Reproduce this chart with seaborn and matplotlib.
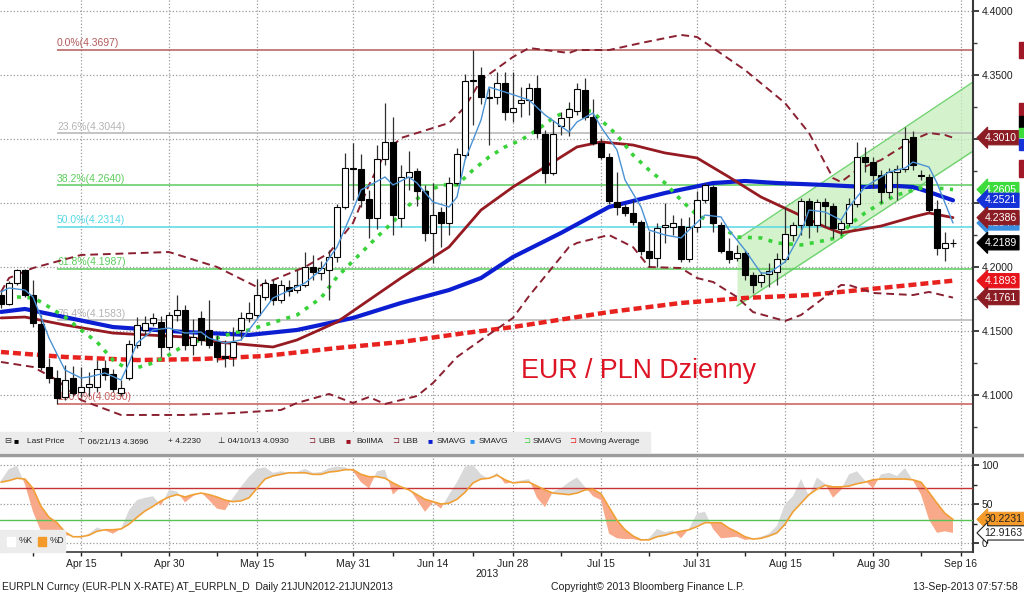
import numpy as np
import matplotlib
matplotlib.use("Agg")
import matplotlib.pyplot as plt
import matplotlib.transforms as mtransforms
from matplotlib import font_manager
from matplotlib.lines import Line2D
from matplotlib.patches import Rectangle
import seaborn as sns

# -----------------------------
# Data (trading-day index 0 = 01 Apr 2013, 119 = 13 Sep 2013)
# -----------------------------
opens = [4.1781, 4.1711, 4.1875, 4.1977, 4.1781, 4.1555, 4.1219, 4.1133, 4.0984, 4.1133,
         4.1023, 4.1063, 4.1063, 4.1211, 4.1164, 4.1016, 4.1133, 4.1391, 4.1508, 4.1563,
         4.1571, 4.1375, 4.1625, 4.1664, 4.1391, 4.1602, 4.1508, 4.1414, 4.1305, 4.1297,
         4.1508, 4.1602, 4.1625, 4.1766, 4.1867, 4.1742, 4.1844, 4.1820, 4.1859, 4.2000,
         4.1953, 4.1977, 4.2078, 4.2469, 4.2773, 4.2766, 4.2531, 4.2383, 4.2844, 4.2977,
         4.2383, 4.2703, 4.2750, 4.2594, 4.2266, 4.2430, 4.2344, 4.2656, 4.2875, 4.3453,
         4.3500, 4.3328, 4.3328, 4.3438, 4.3211, 4.3280, 4.3305, 4.3398, 4.3040, 4.2734,
         4.3102, 4.3172, 4.3219, 4.3383, 4.3172, 4.2969, 4.2859, 4.2508, 4.2469, 4.2422,
         4.2352, 4.2125, 4.2070, 4.2313, 4.2313, 4.2320, 4.2063, 4.2313, 4.2523, 4.2625,
         4.2328, 4.2125, 4.2070, 4.2109, 4.1938, 4.1883, 4.1945, 4.1961, 4.2063, 4.2250,
         4.2328, 4.2516, 4.2328, 4.2508, 4.2477, 4.2297, 4.2344, 4.2492, 4.2859, 4.2820,
         4.2719, 4.2586, 4.2742, 4.2766, 4.3016, 4.2719, 4.2703, 4.2453, 4.2148, 4.2189]
highs = [4.182, 4.189, 4.1985, 4.1985, 4.190, 4.1625, 4.129, 4.1195, 4.1234, 4.1227,
         4.122, 4.118, 4.127, 4.127, 4.120, 4.112, 4.143, 4.161, 4.162, 4.164,
         4.162, 4.165, 4.178, 4.170, 4.159, 4.166, 4.174, 4.147, 4.143, 4.153,
         4.165, 4.173, 4.191, 4.191, 4.191, 4.190, 4.190, 4.198, 4.212, 4.209,
         4.205, 4.213, 4.249, 4.289, 4.297, 4.288, 4.260, 4.295, 4.328, 4.317,
         4.280, 4.291, 4.277, 4.264, 4.266, 4.247, 4.270, 4.293, 4.351, 4.3696,
         4.356, 4.340, 4.352, 4.352, 4.352, 4.341, 4.344, 4.350, 4.307, 4.315,
         4.321, 4.329, 4.344, 4.348, 4.331, 4.301, 4.289, 4.274, 4.249, 4.252,
         4.237, 4.228, 4.234, 4.250, 4.241, 4.238, 4.239, 4.259, 4.266, 4.264,
         4.235, 4.223, 4.217, 4.213, 4.196, 4.196, 4.203, 4.211, 4.247, 4.235,
         4.254, 4.254, 4.253, 4.254, 4.250, 4.237, 4.254, 4.298, 4.294, 4.286,
         4.276, 4.277, 4.280, 4.309, 4.306, 4.276, 4.273, 4.252, 4.227, 4.222]
lows = [4.168, 4.170, 4.186, 4.1766, 4.1531, 4.1195, 4.1094, 4.0930, 4.0961, 4.0992,
        4.0984, 4.099, 4.102, 4.112, 4.102, 4.099, 4.112, 4.137, 4.147, 4.154,
        4.130, 4.135, 4.158, 4.135, 4.131, 4.139, 4.137, 4.126, 4.122, 4.123,
        4.143, 4.157, 4.160, 4.174, 4.170, 4.172, 4.177, 4.180, 4.184, 4.190,
        4.190, 4.174, 4.204, 4.245, 4.252, 4.247, 4.223, 4.230, 4.280, 4.225,
        4.231, 4.260, 4.248, 4.220, 4.203, 4.216, 4.225, 4.264, 4.284, 4.311,
        4.327, 4.295, 4.327, 4.315, 4.313, 4.317, 4.319, 4.301, 4.266, 4.272,
        4.303, 4.302, 4.319, 4.315, 4.295, 4.284, 4.249, 4.241, 4.240, 4.233,
        4.209, 4.200, 4.200, 4.219, 4.225, 4.204, 4.204, 4.227, 4.250, 4.227,
        4.211, 4.203, 4.205, 4.190, 4.180, 4.184, 4.184, 4.186, 4.204, 4.220,
        4.225, 4.223, 4.227, 4.231, 4.223, 4.225, 4.232, 4.247, 4.274, 4.262,
        4.250, 4.254, 4.252, 4.274, 4.276, 4.268, 4.243, 4.209, 4.205, 4.2155]
closes = [4.1711, 4.1875, 4.1977, 4.1781, 4.1563, 4.1219, 4.1133, 4.0977, 4.1117, 4.1016,
          4.1063, 4.1086, 4.1203, 4.1156, 4.1047, 4.1055, 4.1400, 4.1547, 4.1563, 4.1602,
          4.1375, 4.1625, 4.1664, 4.1391, 4.1453, 4.1430, 4.1391, 4.1297, 4.1289, 4.1414,
          4.1602, 4.1641, 4.1781, 4.1875, 4.1742, 4.1859, 4.1813, 4.1859, 4.2000, 4.1961,
          4.1992, 4.2078, 4.2469, 4.2773, 4.2766, 4.2523, 4.2383, 4.2844, 4.2977, 4.2406,
          4.2703, 4.2742, 4.2594, 4.2266, 4.2406, 4.2344, 4.2656, 4.2883, 4.3453, 4.3461,
          4.3328, 4.3320, 4.3438, 4.3211, 4.3242, 4.3305, 4.3398, 4.3047, 4.2734, 4.3040,
          4.3164, 4.3234, 4.3391, 4.3172, 4.2969, 4.2859, 4.2516, 4.2469, 4.2422, 4.2352,
          4.2125, 4.2070, 4.2305, 4.2328, 4.2344, 4.2063, 4.2313, 4.2523, 4.2640, 4.2344,
          4.2125, 4.2063, 4.2109, 4.1938, 4.1860, 4.1938, 4.1969, 4.2063, 4.2258, 4.2328,
          4.2516, 4.2328, 4.2508, 4.2477, 4.2305, 4.2344, 4.2492, 4.2859, 4.2820, 4.2719,
          4.2586, 4.2742, 4.2766, 4.3000, 4.2797, 4.2711, 4.2445, 4.2148, 4.2188, 4.2189]

# indicator lines (day index, value)
ubb_x = [0, 1, 4, 10, 21, 27, 32, 34, 38, 41, 44, 46, 48, 50, 56, 58, 60, 64, 66, 71, 72, 76,
         80, 85, 87, 93, 98, 101, 104, 105, 107, 110, 114, 116, 118, 119]
ubb_y = [4.1805, 4.1914, 4.1992, 4.2094, 4.2117, 4.2000, 4.1844, 4.1898, 4.2000, 4.2109, 4.2344,
         4.2641, 4.2891, 4.3008, 4.3125, 4.3250, 4.3461, 4.3641, 4.3711, 4.3672, 4.3695, 4.3695,
         4.3750, 4.3813, 4.3797, 4.3539, 4.3281, 4.3047, 4.2695, 4.2664, 4.2758, 4.2836, 4.2992,
         4.3047, 4.3031, 4.3010]
boll_x = [0, 3, 8, 14, 23, 27, 34, 37, 42, 46, 50, 56, 60, 64, 68, 72, 75, 79, 83, 87, 91, 95,
          99, 103, 105, 110, 114, 116, 119]
boll_y = [4.1602, 4.1609, 4.1547, 4.1484, 4.1453, 4.1414, 4.1375, 4.1430, 4.1570, 4.1742, 4.1914,
          4.2156, 4.2445, 4.2625, 4.2781, 4.2938, 4.2977, 4.2953, 4.2891, 4.2852, 4.2703, 4.2547,
          4.2430, 4.2313, 4.2266, 4.2320, 4.2391, 4.2422, 4.2386]
lbb_x = [0, 4, 7, 10, 15, 23, 29, 35, 37, 41, 44, 46, 48, 52, 54, 57, 60, 64, 66, 71, 72, 76,
         79, 81, 85, 87, 89, 92, 94, 98, 100, 103, 105, 106, 109, 114, 116, 119]
lbb_y = [4.1258, 4.1219, 4.1117, 4.0961, 4.0844, 4.0844, 4.0859, 4.0883, 4.0938, 4.1008, 4.0938,
         4.0984, 4.0930, 4.0992, 4.1094, 4.1297, 4.1430, 4.1602, 4.1773, 4.2156, 4.2188, 4.2250,
         4.2156, 4.2000, 4.1992, 4.1914, 4.1883, 4.1766, 4.1648, 4.1578, 4.1625, 4.1766, 4.1859,
         4.1859, 4.1797, 4.1781, 4.1805, 4.1761]
sma_blue_x = [0, 3, 14, 23, 31, 37, 44, 50, 56, 60, 64, 70, 76, 83, 89, 93, 97, 103, 108, 112,
              114, 116, 119]
sma_blue_y = [4.1649, 4.1672, 4.1531, 4.1492, 4.1469, 4.1508, 4.1602, 4.1719, 4.1820, 4.1914,
              4.2078, 4.2266, 4.2469, 4.2578, 4.2656, 4.2672, 4.2656, 4.2641, 4.2625, 4.2633,
              4.2625, 4.2586, 4.2521]
sma_fast_x = [0, 1, 3, 4, 5, 6, 8, 10, 11, 13, 15, 16, 17, 19, 21, 23, 25, 26, 28, 30, 31, 34,
              38, 40, 42, 44, 45, 48, 49, 51, 52, 54, 56, 57, 58, 60, 61, 63, 66, 68, 71, 72, 74,
              75, 77, 78, 80, 81, 83, 85, 86, 88, 90, 91, 93, 95, 96, 98, 100, 101, 103, 105, 106,
              108, 110, 111, 113, 114, 116, 117, 118, 119]
sma_fast_y = [4.1805, 4.1836, 4.1820, 4.1766, 4.1609, 4.1445, 4.1195, 4.1133, 4.1141, 4.1172,
              4.1117, 4.1250, 4.1406, 4.1508, 4.1523, 4.1484, 4.1492, 4.1445, 4.1406, 4.1430,
              4.1508, 4.1758, 4.1875, 4.1977, 4.2156, 4.2445, 4.2602, 4.2703, 4.2641, 4.2703,
              4.2656, 4.2508, 4.2469, 4.2547, 4.2836, 4.3148, 4.3406, 4.3367, 4.3305, 4.3188,
              4.3055, 4.3133, 4.3203, 4.3094, 4.2914, 4.2680, 4.2469, 4.2289, 4.2250, 4.2227,
              4.2289, 4.2406, 4.2391, 4.2289, 4.2133, 4.1953, 4.1953, 4.2039, 4.2266, 4.2445,
              4.2430, 4.2367, 4.2469, 4.2625, 4.2703, 4.2742, 4.2773, 4.2820, 4.2781, 4.2656,
              4.2500, 4.2344]
sma_green_x = [2, 4, 5, 8, 10, 12, 14, 16, 19, 21, 23, 25, 27, 29, 31, 33, 37, 40, 42, 45, 47,
               49, 51, 53, 55, 57, 59, 61, 63, 65, 67, 69, 71, 72, 74, 75, 77, 79, 81, 83, 85,
               87, 90, 92, 95, 97, 100, 102, 105, 106, 108, 110, 112, 115, 117, 119]
sma_green_y = [4.1766, 4.1758, 4.1727, 4.1609, 4.1508, 4.1414, 4.1273, 4.1195, 4.1250, 4.1313,
               4.1391, 4.1430, 4.1445, 4.1484, 4.1508, 4.1547, 4.1625, 4.1758, 4.1922, 4.2109,
               4.2234, 4.2352, 4.2484, 4.2578, 4.2641, 4.2641, 4.2758, 4.2859, 4.2938, 4.2992,
               4.3070, 4.3164, 4.3227, 4.3242, 4.3211, 4.3148, 4.3031, 4.2875, 4.2758, 4.2656,
               4.2523, 4.2406, 4.2313, 4.2234, 4.2227, 4.2188, 4.2172, 4.2195, 4.2234, 4.2328,
               4.2422, 4.2500, 4.2563, 4.2617, 4.2617, 4.2605]
mavg_x = [0, 8, 17, 25, 33, 42, 50, 58, 64, 76, 85, 93, 101, 110, 119]
mavg_y = [4.1336, 4.1297, 4.1273, 4.1281, 4.1305, 4.1367, 4.1414, 4.1484, 4.1531, 4.1648,
          4.1719, 4.1758, 4.1781, 4.1836, 4.1893]

# Fibonacci retracement levels
fib_names = ["0.0%", "23.6%", "38.2%", "50.0%", "61.8%", "76.4%", "100.0%"]
fib_levels = [4.3697, 4.3044, 4.2640, 4.2314, 4.1987, 4.1583, 4.0930]
fib_colors = ["#b45a5a", "#b4b4b4", "#5ccc5c", "#55d8e6", "#5ccc5c", "#b4b4b4", "#c85a5a"]

# rising channel (start/end day, upper and lower value)
chan_x = [92, 121.5]
chan_upper = [4.2215, 4.3445]
chan_lower = [4.1695, 4.2905]

# stochastic panel
stoch_k = [80, 95, 99, 75, 40, 15, 8, 7, 10, 9,
           7, 12, 20, 16, 12, 18, 42, 55, 58, 60,
           48, 68, 66, 52, 60, 65, 55, 44, 42, 58,
           72, 85, 95, 97, 90, 92, 90, 91, 95, 90,
           91, 96, 98, 97, 92, 78, 70, 92, 94, 62,
           72, 70, 55, 40, 52, 44, 62, 78, 98, 100,
           88, 82, 90, 76, 78, 80, 82, 58, 46, 66,
           70, 78, 84, 72, 60, 55, 12, 6, 5, 5,
           3, 6, 18, 14, 16, 6, 18, 38, 40, 18,
           6, 7, 8, 4, 5, 8, 12, 22, 50, 60,
           82, 60, 84, 76, 58, 68, 88, 92, 80, 70,
           88, 90, 86, 96, 80, 62, 30, 13, 15, 12.9163]
stoch_d = [78, 80, 83, 82, 70, 47, 33, 26, 14, 8,
           8, 10, 15, 17, 17, 18, 24, 33, 41, 47,
           54, 59, 62, 59, 62, 64, 62, 59, 55, 53,
           54, 58, 70, 82, 86, 88, 90, 90, 90, 88,
           88, 91, 92, 94, 94, 88, 85, 85, 83, 77,
           72, 68, 62, 56, 53, 50, 51, 56, 65, 77,
           82, 83, 87, 81, 77, 78, 78, 73, 68, 64,
           63, 62, 64, 68, 69, 63, 46, 29, 17, 9,
           4, 4, 8, 10, 13, 15, 17, 21, 26, 26,
           26, 19, 14, 8, 5, 6, 9, 13, 24, 40,
           51, 62, 69, 74, 72, 72, 73, 76, 78, 81,
           82, 82, 82, 82, 81, 78, 65, 51, 38, 30.2231]

date_ticks = [10, 21, 32, 44, 54, 64, 75, 87, 98, 109, 120]
date_labels = ["Apr 15", "Apr 30", "May 15", "May 31", "Jun 14", "Jun 28",
               "Jul 15", "Jul 31", "Aug 15", "Aug 30", "Sep 16"]
minor_ticks = [4, 15, 27, 38, 49, 59, 70, 81, 93, 104, 115]

# -----------------------------
# Style
# -----------------------------
sns.set_style("white")
plt.rcParams['font.family'] = ['Liberation Sans', 'DejaVu Sans']

installed = {f.name for f in font_manager.fontManager.ttflist}
if "Liberation Sans Narrow" in installed:
    leg_font, leg_size = ["Liberation Sans Narrow", "DejaVu Sans"], 6.8
else:
    leg_font, leg_size = ["Liberation Sans", "DejaVu Sans"], 6.0

fig = plt.figure(figsize=(10.24, 5.95), dpi=100)
ax = fig.add_axes([0, 140 / 595, 973 / 1024, 455 / 595])
ax2 = fig.add_axes([0, 43 / 595, 973 / 1024, 95 / 595])

XMIN, XMAX = -0.125, 121.5
days = np.arange(len(closes))
o = np.array(opens)
c = np.array(closes)
h = np.array(highs)
l = np.array(lows)

# -----------------------------
# Main panel
# -----------------------------
ax.set_xlim(XMIN, XMAX)
ax.set_ylim(4.053125, 4.408594)

# channel
ax.fill_between(chan_x, chan_lower, chan_upper, color="#c6efbd", alpha=0.75, lw=0, zorder=1)
ax.plot(chan_x, chan_upper, color="#6fd36f", lw=1, zorder=1.5)
ax.plot(chan_x, chan_lower, color="#6fd36f", lw=1, zorder=1.5)

# fibonacci
for name, lev, col in zip(fib_names, fib_levels, fib_colors):
    ax.hlines(lev, 7, XMAX, color=col, lw=1.1, zorder=1.6)
    ax.text(7, lev + 0.0012, f"{name}({lev:.4f})", color=col, fontsize=7.5,
            va="bottom", ha="left", zorder=1.7)

# moving averages
sns.lineplot(x=mavg_x, y=mavg_y, ax=ax, color="#e8231f", lw=3.2,
             linestyle=(0, (1.8, 0.9)), zorder=3)
sns.lineplot(x=sma_blue_x, y=sma_blue_y, ax=ax, color="#0c1ed2", lw=3, zorder=3)
sns.lineplot(x=boll_x, y=boll_y, ax=ax, color="#951a22", lw=2, zorder=3)
sns.lineplot(x=ubb_x, y=ubb_y, ax=ax, color="#8a2030", lw=1.4,
             linestyle=(0, (4, 2.5)), zorder=3)
sns.lineplot(x=lbb_x, y=lbb_y, ax=ax, color="#8a2030", lw=1.4,
             linestyle=(0, (4, 2.5)), zorder=3)
sns.lineplot(x=sma_green_x, y=sma_green_y, ax=ax, color="#3ad23a", lw=2.6,
             linestyle=(0, (1.1, 1.8)), zorder=3)

# candles
body_lo = np.minimum(o, c)
body_h = np.abs(c - o)
up = c >= o
ax.vlines(days, l, h, color="#303030", lw=0.9, zorder=4)
ax.bar(days[up], body_h[up], bottom=body_lo[up], width=0.68, color="white",
       edgecolor="black", lw=0.8, zorder=5)
ax.bar(days[~up], body_h[~up], bottom=body_lo[~up], width=0.68, color="black",
       edgecolor="black", lw=0.8, zorder=5)

sns.lineplot(x=sma_fast_x, y=sma_fast_y, ax=ax, color="#4a92d4", lw=1, zorder=6)

ax.text(65, 4.1133, "EUR / PLN Dzienny", color="#dd1424", fontsize=19.3,
        ha="left", va="baseline", zorder=7)

# axes cosmetics
for side in ["left", "top", "bottom"]:
    ax.spines[side].set_visible(False)
ax.spines["right"].set_color("#3a3a3a")
ax.spines["right"].set_linewidth(1.5)
ax.yaxis.tick_right()
yt = [4.10, 4.15, 4.20, 4.25, 4.30, 4.35, 4.40]
ax.set_yticks(yt)
# 4.25 and 4.30 sit under the value tags, as in the original
ax.set_yticklabels(["" if v in (4.25, 4.30) else f"{v:.4f}" for v in yt])
ax.set_yticks(np.arange(4.075, 4.40, 0.05), minor=True)
ax.tick_params(axis="y", which="major", direction="out", length=4, width=1.2,
               labelsize=7.5, pad=2, colors="#202020")
ax.tick_params(axis="y", which="minor", direction="out", length=3, width=1, colors="#404040")
ax.set_xticks(date_ticks)
ax.tick_params(axis="x", length=0, labelbottom=False)
ax.grid(True, which="major", color="#9a9a9a", ls=":", lw=0.9)
ax.set_axisbelow(True)
ax.set_xlabel("")
ax.set_ylabel("")

# legend strip
ax.add_patch(Rectangle((0, 0.0066), 650 / 973, 0.044, transform=ax.transAxes,
                       color="#ececec", zorder=8, clip_on=False))
leg_items = [(4, "⊟", "#303030"), (14, "■", "#000000"), (27, "Last Price", "#202020"),
             (78, "⊤ 06/21/13 4.3696", "#202020"), (168, "+ 4.2230", "#202020"),
             (218, "⊥ 04/10/13 4.0930", "#202020"),
             (308, "⊐", "#8a2030"), (318, "UBB", "#202020"),
             (346, "■", "#a01020"), (356, "BollMA", "#202020"),
             (392, "⊐", "#8a2030"), (402, "LBB", "#202020"),
             (427, "■", "#0c1ed2"), (437, "SMAVG", "#202020"),
             (469, "■", "#2a90f0"), (479, "SMAVG", "#202020"),
             (523, "⊐", "#3ad23a"), (533, "SMAVG", "#202020"),
             (569, "⊐", "#e8231f"), (579, "Moving Average", "#202020")]
for px, txt, col in leg_items:
    ax.text(px / 973, 0.0286, txt, transform=ax.transAxes, fontsize=leg_size, color=col,
            family=leg_font, va="center", ha="left", zorder=9, clip_on=False)


def tag(axis, val, txt, fc, tc="white", ec=None):
    trans = mtransforms.blended_transform_factory(axis.transAxes, axis.transData)
    axis.text(1.012, val, txt, transform=trans, fontsize=7.6, color=tc, va="center",
              ha="left", zorder=20, clip_on=False,
              bbox=dict(boxstyle="larrow,pad=0.2", fc=fc, ec=ec or fc, lw=0.8))


tag(ax, 4.3010, "4.3010", "#8c1c24")
tag(ax, 4.2605, "4.2605", "#3cdc3c")
tag(ax, 4.2521, "4.2521", "#1432d8")
tag(ax, 4.2344, "4.2344", "#3a8fe0")
tag(ax, 4.2386, "4.2386", "#8c1c24")
tag(ax, 4.2189, "4.2189", "#000000")
tag(ax, 4.1893, "4.1893", "#e8141c")
tag(ax, 4.1761, "4.1761", "#8c1c24")

# -----------------------------
# Stochastic panel
# -----------------------------
k = np.array(stoch_k, dtype=float)
d = np.array(stoch_d, dtype=float)
ax2.set_xlim(XMIN, XMAX)
ax2.set_ylim(-11.54, 110.26)
ax2.fill_between(days, k, d, where=k >= d, interpolate=True, color="#d9d9d9", lw=0, zorder=2)
ax2.fill_between(days, k, d, where=k < d, interpolate=True, color="#f8a98a", lw=0, zorder=2)
ax2.axhline(70, color="#c83232", lw=1, zorder=3)
ax2.axhline(30, color="#55c455", lw=1, zorder=3)
sns.lineplot(x=days, y=d, ax=ax2, color="#f0a035", lw=1.2, zorder=4)

for side in ["left", "top"]:
    ax2.spines[side].set_visible(False)
ax2.spines["right"].set_color("#3a3a3a")
ax2.spines["right"].set_linewidth(1.5)
ax2.spines["bottom"].set_color("#3a3a3a")
ax2.spines["bottom"].set_linewidth(1.2)
ax2.yaxis.tick_right()
ax2.set_yticks([0, 50, 100])
ax2.set_yticks([25, 75], minor=True)
ax2.tick_params(axis="y", which="major", direction="out", length=4, width=1.2,
                labelsize=7.5, pad=2, colors="#202020")
ax2.tick_params(axis="y", which="minor", direction="out", length=3, width=1)
ax2.set_xticks(date_ticks)
ax2.set_xticklabels(date_labels)
ax2.set_xticks(minor_ticks, minor=True)
ax2.tick_params(axis="x", which="both", direction="out", length=3, width=1,
                labelsize=7.5, pad=2, colors="#202020", bottom=True)
ax2.grid(True, which="major", color="#9a9a9a", ls=":", lw=0.9)
ax2.set_axisbelow(True)
ax2.set_xlabel("")
ax2.set_ylabel("")

ax2.add_patch(Rectangle((0, 0), 65 / 973, 0.23, transform=ax2.transAxes,
                        color="#ececec", zorder=8, clip_on=False))
ax2.add_patch(Rectangle((7 / 973, 0.06), 8 / 973, 0.1, transform=ax2.transAxes,
                        color="white", zorder=9))
ax2.add_patch(Rectangle((38 / 973, 0.06), 8 / 973, 0.1, transform=ax2.transAxes,
                        color="#f39a2a", zorder=9))
ax2.text(19 / 973, 0.116, "%K", transform=ax2.transAxes, fontsize=6.5, color="#303030",
         va="center", zorder=10)
ax2.text(50 / 973, 0.116, "%D", transform=ax2.transAxes, fontsize=6.5, color="#303030",
         va="center", zorder=10)

tag(ax2, 30.2231, "30.2231", "#f39a2a", tc="#202020")
tag(ax2, 12.9163, "12.9163", "white", tc="#202020", ec="#202020")

# separator between panels and small partial tags at the far right
fig.add_artist(Line2D([0, 1], [1 - 454.5 / 595] * 2, lw=2.5, color="#9c9c9c"))
for y0, y1, col in [(42, 58, "#a01828"), (103, 116, "#a01828"), (116, 128, "#000000"),
                    (128, 137, "#3cdc3c"), (139, 150, "#1432d8"), (160, 177, "#a01828")]:
    fig.add_artist(Rectangle((1019 / 1024, 1 - y1 / 595), 5 / 1024, (y1 - y0) / 595,
                             color=col, transform=fig.transFigure))

# footer
fig.text(487 / 1024, 1 - 574 / 595, "2013", fontsize=7.5, ha="center", va="center",
         color="#202020")
fig.text(2 / 1024, 1 - 587 / 595,
         "EURPLN Curncy (EUR-PLN X-RATE) AT_EURPLN_D  Daily 21JUN2012-21JUN2013",
         fontsize=7.35, ha="left", va="center", color="#202020")
fig.text(648 / 1024, 1 - 587 / 595, "Copyright© 2013 Bloomberg Finance L.P.",
         fontsize=7.6, ha="center", va="center", color="#202020")
fig.text(1018 / 1024, 1 - 587 / 595, "13-Sep-2013 07:57:58",
         fontsize=7.6, ha="right", va="center", color="#202020")

fig.savefig("out.png", dpi=100, facecolor="white")
